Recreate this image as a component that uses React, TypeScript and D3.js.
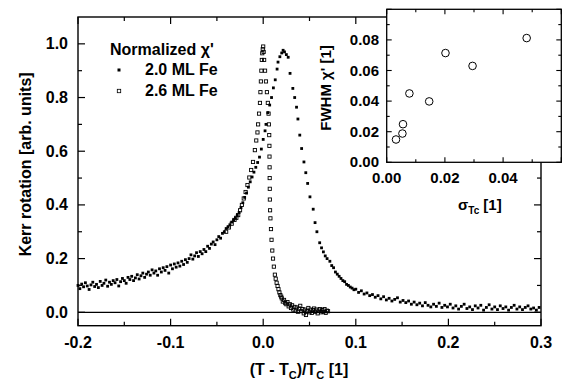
import React from "react";
import * as d3 from "d3";

// 2.0 ML Fe (filled squares): [(T-Tc)/Tc, normalized chi']
const series20: [number, number][] = [
  [-0.2, 0.1], [-0.198, 0.088], [-0.196, 0.105], [-0.194, 0.095], [-0.192, 0.11], [-0.19, 0.098], [-0.188, 0.085],
  [-0.186, 0.102], [-0.184, 0.112], [-0.182, 0.096], [-0.18, 0.104], [-0.178, 0.092], [-0.176, 0.115], [-0.174, 0.1],
  [-0.172, 0.108], [-0.17, 0.12], [-0.168, 0.097], [-0.166, 0.112], [-0.164, 0.104], [-0.162, 0.118], [-0.16, 0.11],
  [-0.158, 0.122], [-0.156, 0.098], [-0.154, 0.114], [-0.152, 0.126], [-0.15, 0.118], [-0.148, 0.108], [-0.146, 0.13],
  [-0.144, 0.122], [-0.142, 0.134], [-0.14, 0.118], [-0.138, 0.128], [-0.136, 0.14], [-0.134, 0.124], [-0.132, 0.136],
  [-0.13, 0.146], [-0.128, 0.13], [-0.126, 0.142], [-0.124, 0.15], [-0.122, 0.138], [-0.12, 0.158], [-0.118, 0.146],
  [-0.116, 0.154], [-0.114, 0.138], [-0.112, 0.162], [-0.11, 0.15], [-0.108, 0.166], [-0.106, 0.156], [-0.104, 0.17],
  [-0.102, 0.146], [-0.1, 0.176], [-0.098, 0.162], [-0.096, 0.18], [-0.094, 0.168], [-0.092, 0.184], [-0.09, 0.172],
  [-0.088, 0.19], [-0.086, 0.178], [-0.084, 0.196], [-0.082, 0.186], [-0.08, 0.2], [-0.078, 0.214], [-0.076, 0.198],
  [-0.074, 0.21], [-0.072, 0.222], [-0.07, 0.208], [-0.068, 0.226], [-0.066, 0.218], [-0.064, 0.234], [-0.062, 0.226],
  [-0.06, 0.246], [-0.058, 0.238], [-0.056, 0.254], [-0.054, 0.262], [-0.052, 0.252], [-0.05, 0.27], [-0.048, 0.282],
  [-0.046, 0.276], [-0.044, 0.294], [-0.042, 0.3], [-0.04, 0.312], [-0.038, 0.318], [-0.036, 0.326], [-0.034, 0.336],
  [-0.032, 0.344], [-0.03, 0.352], [-0.028, 0.362], [-0.026, 0.372], [-0.024, 0.39], [-0.022, 0.408], [-0.02, 0.428],
  [-0.018, 0.444], [-0.016, 0.466], [-0.014, 0.486], [-0.012, 0.504], [-0.01, 0.522], [-0.008, 0.54], [-0.006, 0.558],
  [-0.004, 0.578], [-0.002, 0.608], [0, 0.644], [0.002, 0.676], [0.003, 0.7], [0.005, 0.744], [0.007, 0.772],
  [0.009, 0.8], [0.011, 0.836], [0.013, 0.866], [0.015, 0.906], [0.016, 0.932], [0.018, 0.952], [0.02, 0.966],
  [0.0215, 0.976], [0.023, 0.97], [0.025, 0.96], [0.027, 0.95], [0.029, 0.89], [0.032, 0.834], [0.034, 0.8],
  [0.036, 0.764], [0.0375, 0.72], [0.0395, 0.66], [0.0415, 0.61], [0.044, 0.56], [0.046, 0.52], [0.048, 0.48],
  [0.0505, 0.43], [0.054, 0.384], [0.056, 0.334], [0.058, 0.3], [0.061, 0.259], [0.063, 0.24], [0.065, 0.225],
  [0.067, 0.21], [0.069, 0.2], [0.072, 0.19], [0.074, 0.174], [0.076, 0.166], [0.078, 0.15], [0.08, 0.142],
  [0.082, 0.134], [0.084, 0.126], [0.086, 0.118], [0.088, 0.114], [0.09, 0.104], [0.092, 0.1], [0.094, 0.094],
  [0.096, 0.09], [0.098, 0.084], [0.1, 0.086], [0.103, 0.074], [0.106, 0.08], [0.109, 0.068], [0.112, 0.072],
  [0.115, 0.062], [0.118, 0.066], [0.121, 0.056], [0.124, 0.062], [0.127, 0.05], [0.13, 0.058], [0.133, 0.046],
  [0.136, 0.052], [0.139, 0.042], [0.142, 0.048], [0.145, 0.054], [0.148, 0.038], [0.151, 0.044], [0.154, 0.036],
  [0.157, 0.042], [0.16, 0.03], [0.163, 0.038], [0.166, 0.028], [0.169, 0.034], [0.172, 0.024], [0.175, 0.036],
  [0.178, 0.026], [0.181, 0.02], [0.184, 0.03], [0.187, 0.022], [0.19, 0.034], [0.193, 0.018], [0.196, 0.026],
  [0.199, 0.02], [0.202, 0.03], [0.205, 0.016], [0.208, 0.024], [0.211, 0.012], [0.214, 0.022], [0.217, 0.03],
  [0.22, 0.014], [0.223, 0.02], [0.226, 0.01], [0.229, 0.024], [0.232, 0.016], [0.235, 0.026], [0.238, 0.008],
  [0.241, 0.018], [0.244, 0.028], [0.247, 0.012], [0.25, 0.02], [0.253, 0.01], [0.256, 0.024], [0.259, 0.014],
  [0.262, 0.02], [0.265, 0.008], [0.268, 0.018], [0.271, 0.026], [0.274, 0.012], [0.277, 0.02], [0.28, 0.01],
  [0.283, 0.018], [0.286, 0.024], [0.289, 0.012], [0.292, 0.016], [0.295, 0.008], [0.298, 0.018],
];

// 2.6 ML Fe (open squares)
const series26: [number, number][] = [
  [-0.04, 0.3], [-0.037, 0.316], [-0.034, 0.33], [-0.031, 0.344], [-0.029, 0.352], [-0.027, 0.362], [-0.025, 0.38],
  [-0.023, 0.4], [-0.021, 0.424], [-0.019, 0.448], [-0.017, 0.474], [-0.015, 0.502], [-0.013, 0.53], [-0.011, 0.56],
  [-0.009, 0.604], [-0.0075, 0.64], [-0.0062, 0.67], [-0.0055, 0.7], [-0.0045, 0.74], [-0.0035, 0.78], [-0.003, 0.82],
  [-0.0025, 0.86], [-0.002, 0.9], [-0.0015, 0.94], [-0.001, 0.965], [-0.0005, 0.98], [0, 0.99], [0.0005, 0.97],
  [0.001, 0.94], [0.002, 0.9], [0.003, 0.86], [0.004, 0.82], [0.005, 0.78], [0.0058, 0.74], [0.0062, 0.7],
  [0.0065, 0.66], [0.0067, 0.62], [0.0068, 0.58], [0.0069, 0.54], [0.007, 0.5], [0.0071, 0.46], [0.0072, 0.42],
  [0.0074, 0.38], [0.0078, 0.35], [0.0084, 0.31], [0.009, 0.27], [0.0098, 0.23], [0.0106, 0.2], [0.0115, 0.17],
  [0.0126, 0.14], [0.0135, 0.125], [0.0145, 0.11], [0.0155, 0.098], [0.0165, 0.086], [0.0175, 0.074],
  [0.0185, 0.064], [0.0195, 0.058], [0.02, 0.052], [0.0212, 0.04], [0.0225, 0.046], [0.0238, 0.034], [0.025, 0.03],
  [0.0262, 0.038], [0.0275, 0.022], [0.0288, 0.03], [0.03, 0.016], [0.0312, 0.026], [0.0325, 0.01], [0.0338, 0.02],
  [0.035, 0.006], [0.0362, 0.018], [0.0375, 0.002], [0.0388, 0.014], [0.04, 0.024], [0.0412, 0.004], [0.0425, 0.012],
  [0.0438, -0.004], [0.045, 0.01], [0.0462, -0.01], [0.0475, 0.006], [0.0488, 0.016], [0.05, 0.0], [0.0512, 0.01],
  [0.0525, -0.002], [0.0538, 0.008], [0.055, 0.014], [0.0562, 0.002], [0.0575, 0.01], [0.0588, -0.004], [0.06, 0.006],
  [0.0612, 0.012], [0.0625, 0.0], [0.0638, 0.008], [0.065, 0.002], [0.0662, 0.012], [0.0675, -0.002], [0.0688, 0.006],
  [0.07, 0.004],
];

// Inset: FWHM of chi' vs sigma_Tc
const insetSigma = [0.0032, 0.0054, 0.0056, 0.0078, 0.0146, 0.0202, 0.0295, 0.0481];
const insetFwhm = [0.0149, 0.0188, 0.0249, 0.045, 0.0398, 0.0714, 0.063, 0.0812];

const mainXTicks = [-0.2, -0.1, 0.0, 0.1, 0.2, 0.3];
const mainYTicks = [0.0, 0.2, 0.4, 0.6, 0.8, 1.0];
const insetXTicks = [0.0, 0.02, 0.04];
const insetYTicks = [0.0, 0.02, 0.04, 0.06, 0.08];

const FONT = "'Liberation Sans', Arial, Helvetica, sans-serif";

export default function App() {
  const W = 562, H = 384;
  const L = 78, R = 541, T = 17, B = 325.7;
  const x = d3.scaleLinear().domain([-0.2, 0.3]).range([L, R]);
  const y = d3.scaleLinear().domain([-0.05, 1.1]).range([B, T]);

  const iL = 386.7, iR = 561.3, iT = 9.3, iB = 162.3;
  const ix = d3.scaleLinear().domain([0, 0.06]).range([iL, iR]);
  const iy = d3.scaleLinear().domain([0, 0.1]).range([iB, iT]);

  const xMinor = d3.range(-0.2, 0.3001, 0.05);
  const yMinor = d3.range(0, 1.0501, 0.1);
  const ixMinor = d3.range(0, 0.0601, 0.01);
  const iyMinor = d3.range(0, 0.1001, 0.01);
  const isMajor = (v: number, step: number) => Math.abs(v / step - Math.round(v / step)) < 1e-6;

  const sA = 2.8;
  const sB = 3.2;

  return (
    <svg width={W} height={H} style={{ position: "absolute", left: 0, top: 0, background: "#fff" }}
      fontFamily={FONT} fontWeight="bold">
      <rect x={0} y={0} width={W} height={H} fill="#fff" />
      {/* zero line */}
      <line x1={L} x2={R} y1={y(0)} y2={y(0)} stroke="#000" strokeWidth={1.2} />

      {/* series 2.6 ML (open squares) */}
      {series26.map(([a, b], i) => (
        <rect key={"b" + i} x={x(a) - sB / 2} y={y(b) - sB / 2} width={sB} height={sB}
          fill="none" stroke="#000" strokeWidth={0.9} />
      ))}
      {/* series 2.0 ML (filled squares) */}
      {series20.map(([a, b], i) => (
        <rect key={"a" + i} x={x(a) - sA / 2} y={y(b) - sA / 2} width={sA} height={sA} fill="#000" />
      ))}

      {/* ticks main */}
      {xMinor.map((v, i) => {
        const len = isMajor(v, 0.1) ? 7 : 4;
        return (
          <g key={"xt" + i} stroke="#000" strokeWidth={1.2}>
            <line x1={x(v)} x2={x(v)} y1={B} y2={B - len} />
            <line x1={x(v)} x2={x(v)} y1={T} y2={T + len} />
          </g>
        );
      })}
      {yMinor.map((v, i) => {
        const len = isMajor(v, 0.2) ? 7 : 4;
        return (
          <g key={"yt" + i} stroke="#000" strokeWidth={1.2}>
            <line x1={L} x2={L + len} y1={y(v)} y2={y(v)} />
            <line x1={R} x2={R - len} y1={y(v)} y2={y(v)} />
          </g>
        );
      })}
      <rect x={L} y={T} width={R - L} height={B - T} fill="none" stroke="#000" strokeWidth={1.4} />

      {/* main tick labels */}
      {mainXTicks.map((v, i) => (
        <text key={"xl" + i} x={x(v)} y={348} fontSize={16} textAnchor="middle">{v.toFixed(1)}</text>
      ))}
      {mainYTicks.map((v, i) => (
        <text key={"yl" + i} x={68} y={y(v) + 5.5} fontSize={16} textAnchor="end">{v.toFixed(1)}</text>
      ))}

      {/* axis titles */}
      <text x={299} y={375} fontSize={16} textAnchor="middle">
        (T - T<tspan fontSize={11} dy={4}>C</tspan><tspan dy={-4}>)/T</tspan><tspan fontSize={11} dy={4}>C</tspan><tspan dy={-4}> [1]</tspan>
      </text>
      <text transform={`translate(31,${(T + B) / 2 - 7}) rotate(-90)`} fontSize={16} textAnchor="middle">
        Kerr rotation [arb. units]
      </text>

      {/* legend */}
      <text x={110} y={55} fontSize={16}>Normalized χ'</text>
      <rect x={119 - 1.5} y={70 - 1.5} width={3} height={3} fill="#000" />
      <text x={145} y={75} fontSize={16}>2.0 ML Fe</text>
      <rect x={119 - 1.7} y={91 - 1.7} width={3.4} height={3.4} fill="none" stroke="#000" strokeWidth={0.8} />
      <text x={145} y={96} fontSize={16}>2.6 ML Fe</text>

      {/* inset */}
      <rect x={iL} y={iT} width={iR - iL} height={iB - iT} fill="#fff" stroke="none" />
      {ixMinor.map((v, i) => {
        const len = isMajor(v, 0.02) ? 5 : 3;
        return (
          <g key={"ixt" + i} stroke="#000" strokeWidth={1.1}>
            <line x1={ix(v)} x2={ix(v)} y1={iB} y2={iB - len} />
            <line x1={ix(v)} x2={ix(v)} y1={iT} y2={iT + len} />
          </g>
        );
      })}
      {iyMinor.map((v, i) => {
        const len = isMajor(v, 0.02) ? 5 : 3;
        return (
          <g key={"iyt" + i} stroke="#000" strokeWidth={1.1}>
            <line x1={iL} x2={iL + len} y1={iy(v)} y2={iy(v)} />
            <line x1={iR} x2={iR - len} y1={iy(v)} y2={iy(v)} />
          </g>
        );
      })}
      <rect x={iL} y={iT} width={iR - iL} height={iB - iT} fill="none" stroke="#000" strokeWidth={1.3} />
      {insetSigma.map((s, i) => (
        <circle key={"c" + i} cx={ix(s)} cy={iy(insetFwhm[i])} r={3.8} fill="#fff" stroke="#000" strokeWidth={1} />
      ))}
      {insetXTicks.map((v, i) => (
        <text key={"ixl" + i} x={ix(v)} y={183} fontSize={15} textAnchor="middle">{v.toFixed(2)}</text>
      ))}
      {insetYTicks.map((v, i) => (
        <text key={"iyl" + i} x={379} y={iy(v) + 5} fontSize={15} textAnchor="end">{v.toFixed(2)}</text>
      ))}
      <text transform={`translate(331,88) rotate(-90)`} fontSize={15} textAnchor="middle">FWHM χ' [1]</text>
      <text x={458} y={210} fontSize={15}>
        σ<tspan fontSize={10} dy={4}>Tc</tspan><tspan dy={-4}> [1]</tspan>
      </text>
    </svg>
  );
}
